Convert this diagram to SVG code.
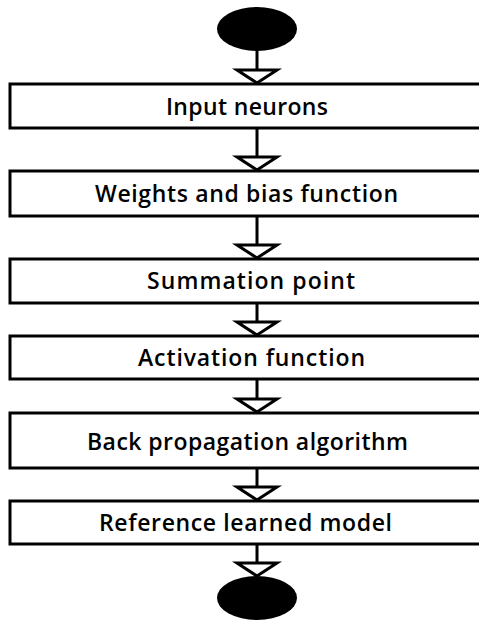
<svg xmlns="http://www.w3.org/2000/svg" width="479" height="623" viewBox="0 0 479 623">
<style>
.box{fill:#fff;stroke:#000;stroke-width:3}
.lbl{font-family:"Open Sans","Liberation Sans",sans-serif;font-weight:600;font-size:23px;fill:#000;text-anchor:middle}
.stem{stroke:#000;stroke-width:3;fill:none}
.head{fill:#fff;stroke:#000;stroke-width:3;stroke-linejoin:miter}
.term{fill:#000}
</style>
<rect width="479" height="623" fill="#fff"/>
<g id="connectors">
<line class="stem" x1="257" y1="50" x2="257" y2="70"/>
<polygon class="head" points="237,70 277,70 257,83"/>
<line class="stem" x1="257" y1="128" x2="257" y2="157"/>
<polygon class="head" points="237,157 277,157 257,170"/>
<line class="stem" x1="257" y1="216" x2="257" y2="245"/>
<polygon class="head" points="237,245 277,245 257,258"/>
<line class="stem" x1="257" y1="303" x2="257" y2="322"/>
<polygon class="head" points="237,322 277,322 257,335"/>
<line class="stem" x1="257" y1="379" x2="257" y2="399"/>
<polygon class="head" points="237,399 277,399 257,412"/>
<line class="stem" x1="257" y1="468" x2="257" y2="487"/>
<polygon class="head" points="237,487 277,487 257,500"/>
<line class="stem" x1="257" y1="544" x2="257" y2="563"/>
<polygon class="head" points="237,563 277,563 257,576"/>
</g>
<g id="start"><ellipse class="term" cx="257" cy="29" rx="40" ry="22"/></g>
<g id="n1"><rect class="box" x="10" y="84" width="480" height="44"/><text class="lbl" x="247" y="115" textLength="162" lengthAdjust="spacing">Input neurons</text></g>
<g id="n2"><rect class="box" x="10" y="171" width="480" height="45"/><text class="lbl" x="246.5" y="202" textLength="303" lengthAdjust="spacing">Weights and bias function</text></g>
<g id="n3"><rect class="box" x="10" y="259" width="480" height="44"/><text class="lbl" x="251" y="289" textLength="208" lengthAdjust="spacing">Summation point</text></g>
<g id="n4"><rect class="box" x="10" y="336" width="480" height="43"/><text class="lbl" x="251.5" y="366" textLength="227" lengthAdjust="spacing">Activation function</text></g>
<g id="n5"><rect class="box" x="10" y="413" width="480" height="55"/><text class="lbl" x="247.5" y="450" textLength="321" lengthAdjust="spacing">Back propagation algorithm</text></g>
<g id="n6"><rect class="box" x="10" y="501" width="480" height="43"/><text class="lbl" x="245.5" y="531" textLength="293" lengthAdjust="spacing">Reference learned model</text></g>
<g id="end"><ellipse class="term" cx="257" cy="598" rx="40" ry="22"/></g>
</svg>
